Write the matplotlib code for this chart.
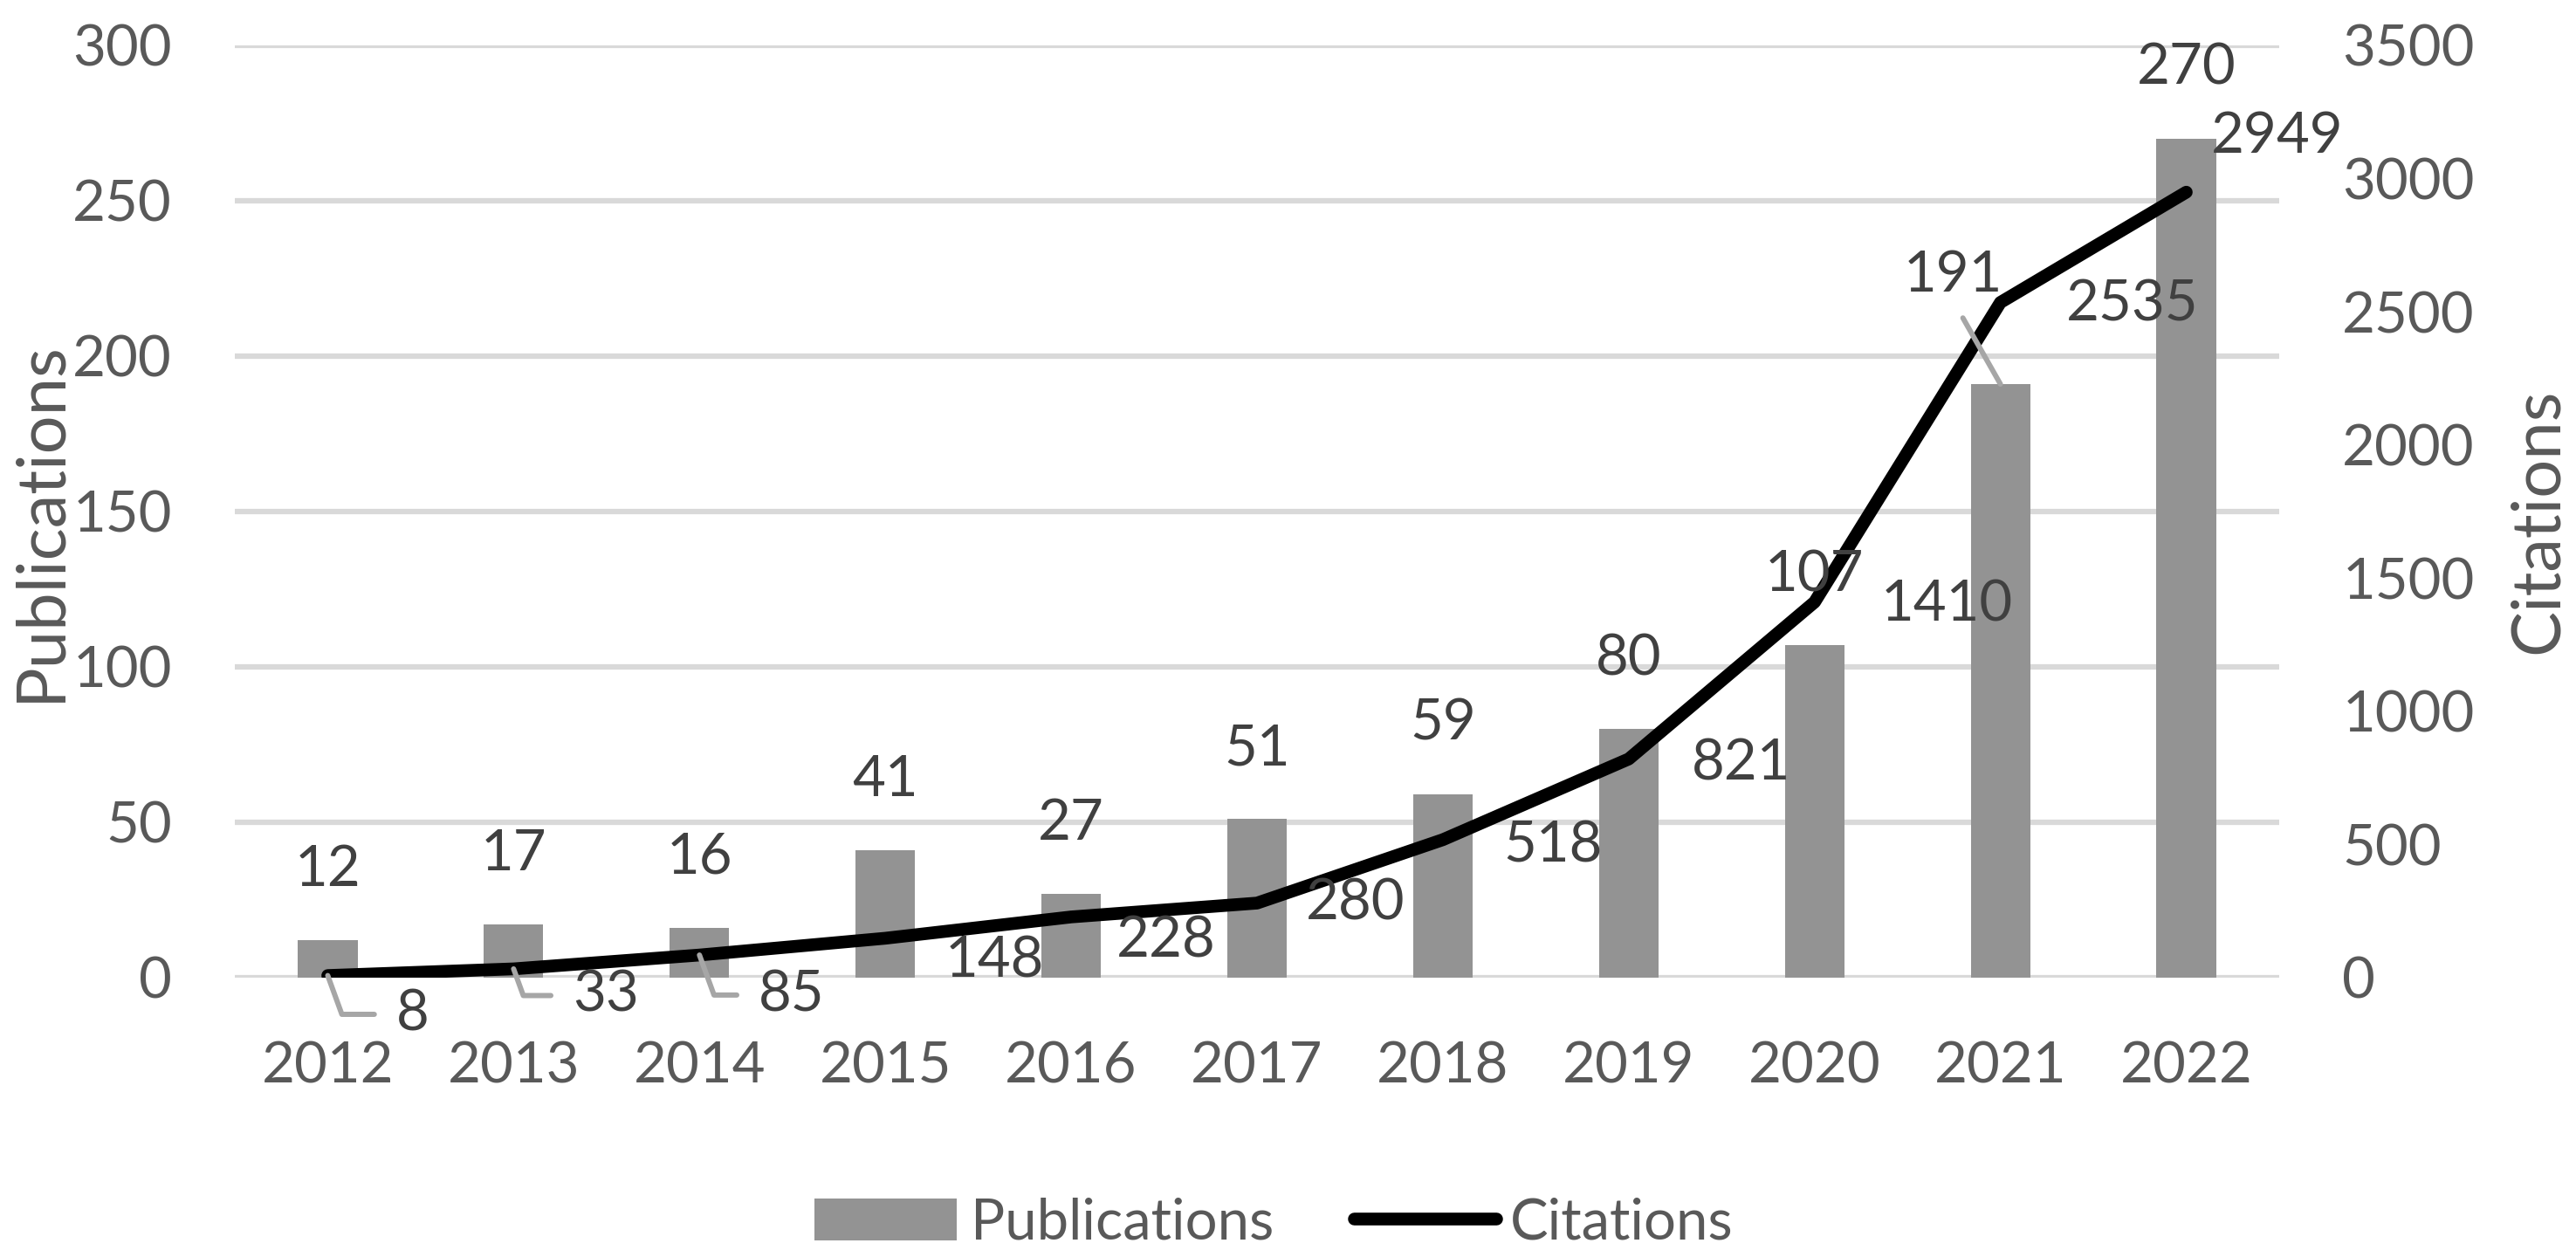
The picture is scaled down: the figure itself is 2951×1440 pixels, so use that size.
import matplotlib
matplotlib.use("Agg")
import matplotlib.pyplot as plt
import numpy as np

plt.rcParams["font.family"] = ["Lato", "DejaVu Sans"]

years = ["2012", "2013", "2014", "2015", "2016", "2017",
         "2018", "2019", "2020", "2021", "2022"]
publications = [12, 17, 16, 41, 27, 51, 59, 80, 107, 191, 270]
citations = [8, 33, 85, 148, 228, 280, 518, 821, 1410, 2535, 2949]

# label placement (offset points from the mark), like Excel's nudged labels
pub_offsets = [(0, 58)] * 9 + [(-39, 90), (0, 58)]
cit_offsets = [(70, -32), (76, -22), (76, -33), (90, -19), (78, -20), (81, 0),
               (91, -5), (93, -4), (109, -2), (109, -2), (75, 46)]
cit_leaders = {0, 1, 2}
pub_leaders = {9}

BAR = "#939393"
GRID = "#d9d9d9"
TICK = "#595959"
LABEL = "#404040"
LEADER = "#a6a6a6"
FS = 47

fig = plt.figure(figsize=(29.51, 14.40), dpi=100)
ax = fig.add_axes([269 / 2951, 1 - 1120 / 1440, 2342 / 2951, 1068 / 1440])
ax2 = ax.twinx()

x = np.arange(len(years))
ax.bar(x, publications, width=0.32, color=BAR, zorder=2, label="Publications")
ax.set_xlim(-0.5, len(years) - 0.5)
ax.set_ylim(0, 300)
ax.set_yticks(np.arange(0, 301, 50))
ax.yaxis.grid(True, color=GRID, linewidth=4.5, zorder=0)
ax.set_axisbelow(True)
ax.set_xticks(x)
ax.set_xticklabels(years)

ln, = ax2.plot(x, citations, color="black", linewidth=10.5,
               solid_capstyle="round", solid_joinstyle="round", label="Citations")
ax2.set_ylim(0, 3500)
ax2.set_yticks(np.arange(0, 3501, 500))

for a in (ax, ax2):
    for s in a.spines.values():
        s.set_visible(False)
    a.tick_params(length=0, pad=52, labelsize=FS, labelcolor=TICK)

ax.set_ylabel("Publications", fontsize=56, color=TICK, va="center", ha="center")
ax.yaxis.set_label_coords(-0.095, 0.49)
ax2.set_ylabel("Citations", fontsize=56, color=TICK, va="center", ha="center",
               rotation=90)
ax2.yaxis.set_label_coords(1.127, 0.49)

# bar labels
for i, v in enumerate(publications):
    kw = {}
    if i in pub_leaders:
        kw["arrowprops"] = dict(arrowstyle="-", color=LEADER, lw=4.3,
                                relpos=(0.5, 0), shrinkA=14, shrinkB=0)
    ax2.annotate(str(v), xy=(x[i], v), xycoords=ax.transData,
                 xytext=pub_offsets[i], textcoords="offset points",
                 ha="center", va="center", fontsize=FS, color=LABEL,
                 zorder=5, **kw)

# line labels
for i, v in enumerate(citations):
    kw = {}
    if i in cit_leaders:
        kw["arrowprops"] = dict(arrowstyle="-", color=LEADER, lw=4.3,
                                relpos=(0, 0.5), shrinkA=16, shrinkB=0,
                                connectionstyle="angle,angleA=0,angleB=-70,rad=0")
    ax2.annotate(str(v), xy=(x[i], v), xytext=cit_offsets[i],
                 textcoords="offset points", ha="center", va="center",
                 fontsize=FS, color=LABEL, zorder=5, **kw)

handles = [ax.patches[0], ln]
fig.legend(handles, ["Publications", "Citations"], loc="center",
           bbox_to_anchor=(0.4945, 0.027), ncol=2, frameon=False,
           fontsize=FS, labelcolor=TICK, handlelength=2.5, handleheight=0.75,
           handletextpad=0.25, columnspacing=1.4)

fig.savefig("out.png", dpi=100)
